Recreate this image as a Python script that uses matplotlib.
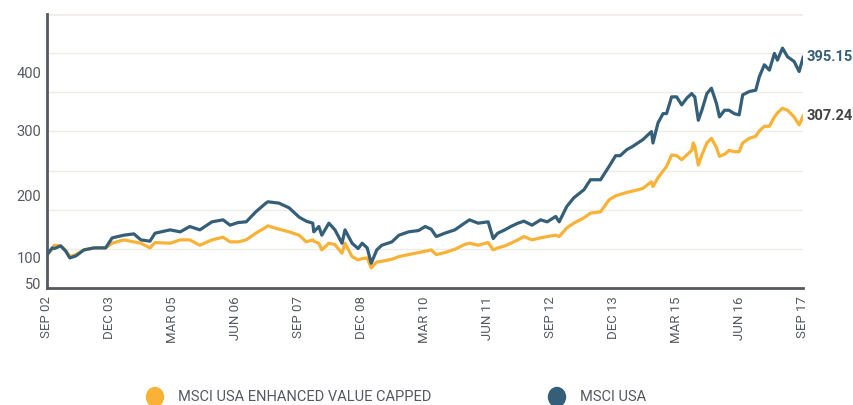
import matplotlib
matplotlib.use("Agg")
import matplotlib.pyplot as plt
from matplotlib.patches import Ellipse

# decimal years (Sep 2002 = 2002.67) and index levels
years = [2002.67, 2002.77, 2002.81, 2002.94, 2003.04, 2003.12, 2003.24, 2003.40, 2003.60, 2003.83,
         2003.96, 2004.19, 2004.39, 2004.53, 2004.71, 2004.81, 2005.11, 2005.31, 2005.50, 2005.70,
         2005.94, 2006.16, 2006.30, 2006.46, 2006.62, 2006.81, 2007.01, 2007.05, 2007.27, 2007.47,
         2007.67, 2007.81, 2007.94, 2007.96, 2008.06, 2008.12, 2008.26, 2008.38, 2008.52, 2008.58,
         2008.72, 2008.84, 2008.92, 2009.02, 2009.10, 2009.21, 2009.31, 2009.51, 2009.65, 2009.84,
         2010.04, 2010.17, 2010.29, 2010.39, 2010.56, 2010.76, 2010.95, 2011.05, 2011.22, 2011.42,
         2011.52, 2011.61, 2011.75, 2011.87, 2012.01, 2012.13, 2012.29, 2012.46, 2012.59, 2012.76,
         2012.83, 2012.98, 2013.12, 2013.32, 2013.45, 2013.65, 2013.82, 2013.95, 2014.04, 2014.17,
         2014.29, 2014.49, 2014.66, 2014.69, 2014.79, 2014.89, 2014.96, 2015.06, 2015.16, 2015.26,
         2015.36, 2015.46, 2015.49, 2015.52, 2015.59, 2015.66, 2015.76, 2015.85, 2015.95, 2016.01,
         2016.11, 2016.20, 2016.30, 2016.40, 2016.47, 2016.60, 2016.73, 2016.80, 2016.90, 2017.00,
         2017.10, 2017.16, 2017.26, 2017.36, 2017.49, 2017.59, 2017.67]

msci_usa = [100, 110, 109, 113, 105, 95, 98, 107, 110, 110,
            125, 129, 131, 122, 120, 132, 137, 134, 142, 137,
            149, 152, 144, 148, 149, 164, 177, 179, 177, 170,
            156, 150, 147, 134, 142, 129, 147, 137, 117, 137,
            117, 109, 117, 110, 87, 107, 114, 119, 129, 134,
            136, 142, 138, 127, 132, 137, 147, 152, 147, 149,
            124, 132, 137, 142, 147, 150, 144, 152, 149, 157,
            149, 172, 185, 197, 212, 212, 232, 248, 248, 257,
            262, 272, 284, 267, 297, 311, 311, 336, 336, 324,
            334, 341, 338, 336, 301, 316, 341, 349, 326, 306,
            316, 316, 311, 309, 339, 344, 346, 366, 384, 376,
            401, 391, 409, 396, 389, 374, 395.15]

msci_value = [100, 108, 114, 113, 106, 97, 100, 107, 110, 110,
              117, 122, 119, 117, 110, 118, 117, 122, 122, 114,
              122, 126, 119, 119, 122, 132, 141, 143, 138, 134,
              129, 119, 122, 120, 117, 107, 117, 115, 102, 117,
              97, 92, 94, 95, 80, 89, 90, 93, 97, 100,
              103, 105, 107, 100, 103, 108, 115, 117, 114, 118,
              107, 110, 113, 117, 122, 127, 122, 125, 127, 129,
              127, 140, 147, 155, 162, 164, 182, 188, 190, 193,
              195, 199, 209, 202, 215, 225, 232, 249, 248, 242,
              249, 256, 267, 262, 234, 249, 267, 274, 260, 247,
              250, 256, 254, 254, 267, 274, 277, 285, 292, 292,
              306, 312, 319, 316, 306, 294, 307.24]

x_ticks = [2002.667 + 1.25 * k for k in range(13)]
x_labels = ["SEP 02", "DEC 03", "MAR 05", "JUN 06", "SEP 07", "DEC 08", "MAR 10",
            "JUN 11", "SEP 12", "DEC 13", "MAR 15", "JUN 16", "SEP 17"]
# label positions as drawn in the original chart
y_ticks = [56, 96, 189, 285, 373]
y_labels = ["50", "100", "200", "300", "400"]
grid_vals = [50 + k * 410 / 7 for k in range(1, 8)]

BLUE = "#355f79"
ORANGE = "#f9b236"
GREY = "#555a60"

plt.rcParams["font.family"] = ["Roboto", "DejaVu Sans"]

fig = plt.figure(figsize=(8.54, 4.05), dpi=100)
ax = fig.add_axes([47 / 854, 117 / 405, 756 / 854, 274 / 405])

for g in grid_vals:
    ax.axhline(g, color="#efebe6", lw=1.8 if g == grid_vals[-1] else 1.0, zorder=0)

ax.plot(years, msci_value, color=ORANGE, lw=2.3, zorder=2)
ax.plot(years, msci_usa, color=BLUE, lw=2.3, zorder=3)

ax.set_xlim(2002.667, 2017.667)
ax.set_ylim(50, 460)
ax.set_xticks(x_ticks)
ax.set_xticklabels(x_labels, rotation=90, fontsize=9.5, color=GREY)
ax.set_yticks(y_ticks)
ax.set_yticklabels(y_labels, fontsize=10.5, color=GREY)
ax.tick_params(length=0, pad=4)
ax.tick_params(axis="x", pad=6)

for s in ["top", "right"]:
    ax.spines[s].set_visible(False)
for s in ["left", "bottom"]:
    ax.spines[s].set_color(GREY)
    ax.spines[s].set_linewidth(2)

ax.text(1.005, msci_usa[-1], f"{msci_usa[-1]:.2f}", transform=ax.get_yaxis_transform(),
        color=BLUE, fontsize=10.5, fontweight="bold", va="center", ha="left")
ax.text(1.005, msci_value[-1], f"{msci_value[-1]:.2f}", transform=ax.get_yaxis_transform(),
        color="#444444", fontsize=10.5, fontweight="bold", va="center", ha="left")

# legend along the bottom edge
fig.add_artist(Ellipse((155 / 854, 8 / 405), 17 / 854, 19 / 405,
                       transform=fig.transFigure, color=ORANGE))
fig.text(178 / 854, 8 / 405, "MSCI USA ENHANCED VALUE CAPPED", fontsize=10.5,
         color=GREY, va="center", ha="left")
fig.add_artist(Ellipse((557 / 854, 8 / 405), 17 / 854, 19 / 405,
                       transform=fig.transFigure, color=BLUE))
fig.text(580 / 854, 8 / 405, "MSCI USA", fontsize=10.5, color=GREY, va="center", ha="left")

fig.savefig("out.png", dpi=100)
